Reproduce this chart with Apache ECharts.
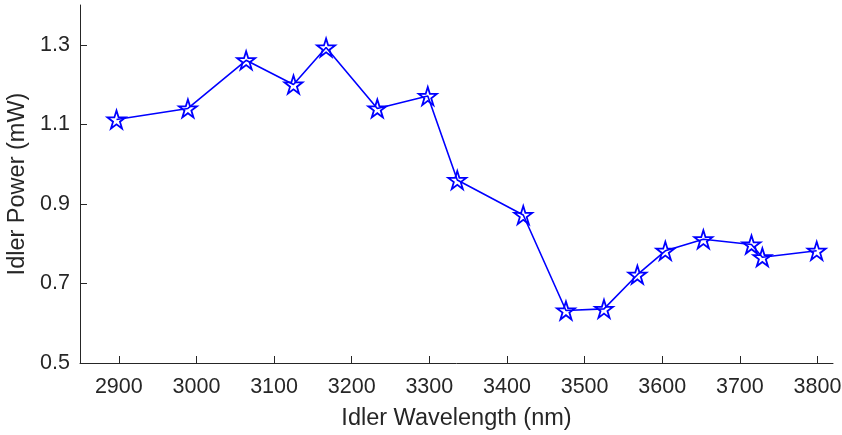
<!DOCTYPE html>
<html><head><meta charset="utf-8">
<script src="https://cdn.jsdelivr.net/npm/echarts@6/dist/echarts.min.js"></script>
<style>html,body{margin:0;padding:0;background:#fff}#c{width:842px;height:435px}</style>
</head><body><div id="c"></div>
<script>
const wavelength = [2897, 2989, 3064, 3125, 3167, 3233, 3298, 3336, 3421, 3476, 3525, 3568, 3604, 3653, 3715, 3729, 3799];
const power = [1.112, 1.140, 1.261, 1.200, 1.293, 1.140, 1.171, 0.960, 0.872, 0.632, 0.636, 0.722, 0.782, 0.811, 0.798, 0.766, 0.782];
const xTicks = [2900, 3000, 3100, 3200, 3300, 3400, 3500, 3600, 3700, 3800];
const yTicks = [0.5, 0.7, 0.9, 1.1, 1.3];

// pentagram symbol path
let pts = [];
for (let i = 0; i < 10; i++) {
  const a = (-90 + 36 * i) * Math.PI / 180;
  const r = i % 2 === 0 ? 50 : 19.1;
  pts.push((50 + r * Math.cos(a)).toFixed(2) + ' ' + (50 + r * Math.sin(a)).toFixed(2));
}
const starPath = 'path://M' + pts.join(' L') + ' Z';

const font = 'Arial, "Liberation Sans", Helvetica, sans-serif';
const axisColor = '#262626';
const chart = echarts.init(document.getElementById('c'));
chart.setOption({
  animation: false,
  grid: {left: 80, right: 9, top: 5, bottom: 72, containLabel: false, outerBoundsMode: 'none'},
  xAxis: {
    type: 'value', min: 2850, max: 3820,
    name: 'Idler Wavelength (nm)', nameLocation: 'middle', nameGap: 44,
    nameTextStyle: {fontSize: 23.5, color: axisColor, fontFamily: font},
    axisLine: {show: true, lineStyle: {color: axisColor, width: 1}},
    axisTick: {show: true, inside: true, length: 7, customValues: xTicks, lineStyle: {color: axisColor}},
    axisLabel: {customValues: xTicks, fontSize: 21.5, color: axisColor, fontFamily: font, margin: 13,
      formatter: v => String(v)},
    splitLine: {show: false}
  },
  yAxis: {
    type: 'value', min: 0.5, max: 1.4,
    name: 'Idler Power (mW)', nameLocation: 'middle', nameGap: 42,
    nameTextStyle: {fontSize: 23.5, color: axisColor, fontFamily: font},
    axisLine: {show: true, lineStyle: {color: axisColor, width: 1}},
    axisTick: {show: true, inside: true, length: 7, customValues: yTicks, lineStyle: {color: axisColor}},
    axisLabel: {customValues: yTicks, fontSize: 21.5, color: axisColor, fontFamily: font, margin: 10,
      formatter: v => v.toFixed(1)},
    splitLine: {show: false}
  },
  series: [{
    type: 'line',
    data: wavelength.map((w, i) => [w, power[i]]),
    symbol: starPath, symbolSize: 18, showSymbol: true,
    lineStyle: {color: '#0000ff', width: 1.6},
    itemStyle: {color: 'rgba(0,0,0,0)', borderColor: '#0000ff', borderWidth: 1.8},
    emphasis: {disabled: true}
  }]
});
</script></body></html>
